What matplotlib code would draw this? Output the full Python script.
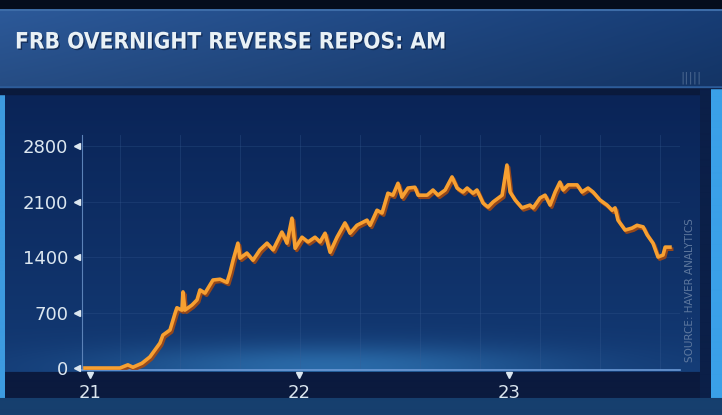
import numpy as np
import matplotlib.pyplot as plt
import matplotlib.patheffects as pe
from matplotlib import font_manager
from matplotlib.colors import to_rgb

# values (year as 2-digit decimal, $bn)
years = [20.976, 21.048, 21.143, 21.181, 21.205, 21.248, 21.286, 21.334, 21.348, 21.382,
         21.406, 21.415, 21.439, 21.444, 21.453, 21.487, 21.511, 21.525, 21.549, 21.587,
         21.621, 21.654, 21.668, 21.683, 21.706, 21.716, 21.749, 21.778, 21.811, 21.845,
         21.874, 21.916, 21.940, 21.964, 21.979, 22.012, 22.041, 22.074, 22.098, 22.122,
         22.146, 22.179, 22.217, 22.241, 22.274, 22.322, 22.337, 22.370, 22.394, 22.422,
         22.446, 22.470, 22.489, 22.518, 22.551, 22.566, 22.609, 22.637, 22.661, 22.695,
         22.728, 22.752, 22.780, 22.800, 22.828, 22.847, 22.876, 22.900, 22.924, 22.967,
         22.990, 23.005, 23.029, 23.062, 23.100, 23.115, 23.148, 23.172, 23.196, 23.220,
         23.243, 23.258, 23.282, 23.325, 23.348, 23.377, 23.401, 23.434, 23.468, 23.492,
         23.506, 23.520, 23.554, 23.587, 23.611, 23.640, 23.659, 23.687, 23.711, 23.735,
         23.745, 23.768]
repos = [0, 0, 0, 40, 10, 60, 140, 315, 415, 480,
         690, 760, 730, 960, 730, 795, 860, 985, 945, 1110,
         1120, 1080, 1200, 1360, 1575, 1385, 1450, 1360, 1490, 1575,
         1490, 1715, 1575, 1890, 1510, 1650, 1590, 1650, 1590, 1700,
         1460, 1650, 1830, 1700, 1800, 1865, 1800, 1990, 1955, 2205,
         2180, 2330, 2155, 2270, 2280, 2180, 2180, 2245, 2180, 2245,
         2410, 2270, 2220, 2270, 2205, 2245, 2080, 2030, 2095, 2180,
         2560, 2220, 2120, 2020, 2055, 2020, 2145, 2180, 2055, 2220,
         2345, 2245, 2310, 2310, 2220, 2270, 2220, 2120, 2055, 1990,
         2020, 1865, 1740, 1765, 1800, 1780, 1680, 1575, 1400, 1425,
         1525, 1525]
yticks = [0, 700, 1400, 2100, 2800]
xticks = [21, 22, 23]
xlabels = ["21", "22", "23"]

title = "FRB OVERNIGHT REVERSE REPOS: AM"
source = "SOURCE: HAVER ANALYTICS"

W, H = 722, 415
fig = plt.figure(figsize=(W / 100, H / 100), dpi=100)

# --- TV-style background built as an image ---
img = np.zeros((H, W, 3))
img[:] = to_rgb("#0a1a3c")
img[0:10] = to_rgb("#050c1c")
# title banner
xs = np.linspace(0, 1, W)[None, :, None]
left, right = np.array(to_rgb("#2a5592")), np.array(to_rgb("#163a70"))
ys = np.linspace(0, 1, 78)[:, None, None]
img[11:89] = (left * (1 - xs) + right * xs) * (1.05 - 0.15 * ys)
img[10:12] = to_rgb("#3d6ca8")
img[87:89] = to_rgb("#2d5c99")
# chart panel
top, bot = np.array(to_rgb("#0a2457")), np.array(to_rgb("#133a74"))
ys = np.linspace(0, 1, 276)[:, None, None]
panel = top * (1 - ys) + bot * ys
glow = np.exp(-((np.arange(W) - 330) / 220.0) ** 2)[None, :, None]
vy = np.exp(-((np.arange(276) - 270) / 22.0) ** 2)[:, None, None]
panel = panel + (np.array(to_rgb("#2a6aa8")) - bot) * glow * vy
img[96:372] = np.clip(panel, 0, 1)
img[372:398] = to_rgb("#0b1a3e")
img[398:] = to_rgb("#163f6e")
img[96:398, 0:5] = to_rgb("#3d9be0")
img[90:398, 700:711] = to_rgb("#0b1f48")
img[90:398, 711:] = to_rgb("#3aa0e8")

bg = fig.add_axes([0, 0, 1, 1], zorder=0)
bg.imshow(img, aspect="auto", interpolation="bilinear")
bg.axis("off")

# condensed bold face for the banner if one is installed
has_cond = any("Condensed" in f.fname and "Bold" in f.fname and "DejaVu" in f.fname
               for f in font_manager.fontManager.ttflist)
if has_cond:
    tkw = dict(family="DejaVu Sans", fontstretch="condensed", fontsize=19)
else:
    tkw = dict(family=["Roboto", "DejaVu Sans"], fontsize=17)
t = fig.text(15 / W, 1 - 42 / H, title, color="#e9f1f6", fontweight="bold",
             va="center", ha="left",
             path_effects=[pe.withSimplePatchShadow(offset=(1, -1), shadow_rgbFace="#0a1a3a", alpha=0.6)],
             **tkw)
# fit the banner text to the width it has in the original
fig.canvas.draw()
wpx = t.get_window_extent().width
t.set_fontsize(t.get_fontsize() * 430 / wpx)

fig.text(680 / W, 1 - 78 / H, "|||||", color="#6c86a8", fontsize=9, ha="left", va="center", alpha=0.6)
fig.text(690 / W, 1 - 290 / H, source, color="#7088aa", fontsize=7.5, rotation=90,
         ha="center", va="center", alpha=0.8)

# --- chart axes ---
ax = fig.add_axes([82 / W, 1 - 370 / H, 598 / W, 235 / H], zorder=1)
ax.set_facecolor("none")
ax.set_xlim(20.962, 23.816)
ax.set_ylim(-25, 2939)

for gx in np.arange(21.143, 23.8, 0.2864):
    ax.axvline(gx, color="#3a5f95", lw=0.6, alpha=0.35, zorder=1)
for gy in yticks[1:]:
    ax.axhline(gy, color="#3a5f95", lw=0.6, alpha=0.3, zorder=1)

ax.plot(years, repos, color="#f7a031", lw=2.6, solid_joinstyle="round", zorder=3,
        path_effects=[pe.SimpleLineShadow(offset=(1.2, -1.5), shadow_color="#a44a12", alpha=0.9),
                      pe.Normal()])

for s in ["top", "right"]:
    ax.spines[s].set_visible(False)
ax.spines["left"].set_color("#5b82b8")
ax.spines["left"].set_linewidth(0.8)
ax.spines["bottom"].set_color("#6c9ad6")
ax.spines["bottom"].set_linewidth(1.2)

ax.set_yticks(yticks)
ax.set_yticklabels([str(v) for v in yticks])
ax.set_xticks(xticks)
ax.set_xticklabels(xlabels)
ax.tick_params(length=0, colors="#dce7f0", labelsize=13)
ax.tick_params(axis="y", pad=10)
ax.tick_params(axis="x", pad=10)

# small triangular tick markers
ax.plot([-0.008] * len(yticks), yticks, ls="none", marker="<", ms=4, color="#dce7f0",
        transform=ax.get_yaxis_transform(), clip_on=False, zorder=4)
ax.plot(xticks, [-0.02] * len(xticks), ls="none", marker="v", ms=5, color="#dce7f0",
        transform=ax.get_xaxis_transform(), clip_on=False, zorder=4)

fig.savefig("out.png", dpi=100)
